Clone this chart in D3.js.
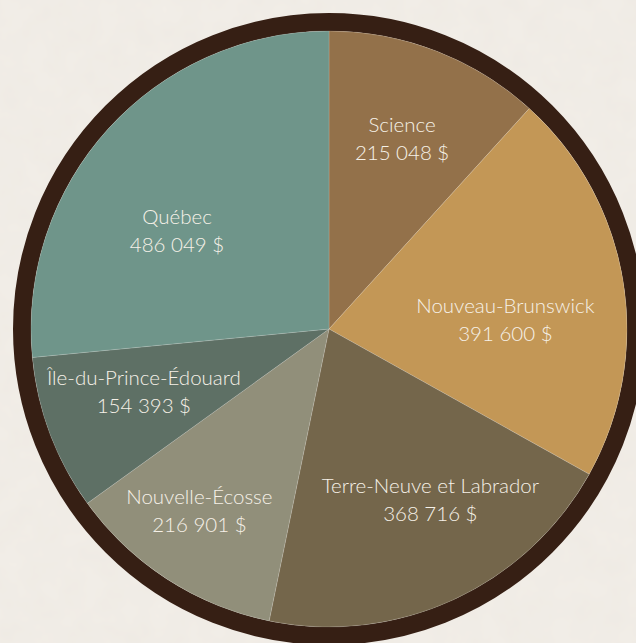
<!DOCTYPE html>
<html>
<head>
<meta charset="utf-8">
<script src="https://cdn.jsdelivr.net/npm/d3@7"></script>
<style>
  html, body { margin: 0; padding: 0; background: #f2eee8; }
  svg { display: block; }
  .etiqueta { font-family: Lato, "Open Sans", sans-serif; font-size: 20.5px; font-weight: 300; fill: #f6f1e8; }
</style>
</head>
<body>
<div id="grafico"></div>
<script>
// datos
var regiones = ["Science", "Nouveau-Brunswick", "Terre-Neuve et Labrador",
  "Nouvelle-Écosse", "Île-du-Prince-Édouard", "Québec"];
var montos = [215048, 391600, 368716, 216901, 154393, 486049];
var colores = ["#93714a", "#c39756", "#74664b", "#918f7a", "#5e7065", "#6f958a"];

// variables globales
var w = 636, h = 643;
var cx = 329, cy = 329;
var radio = 298;
var borde = 18;
var radio_etiqueta = 200;
// pequeños ajustes de las etiquetas (dx, dy)
var ajustes = [[1, -3], [-21, 23], [18, -11], [-21, 14], [2, -7], [-4, 37]];

var svg = d3.select("#grafico").append("svg")
  .attr("width", w)
  .attr("height", h);

// textura del fondo
var defs = svg.append("defs");
var filtro = defs.append("filter").attr("id", "papel")
  .attr("x", 0).attr("y", 0).attr("width", "100%").attr("height", "100%");
filtro.append("feTurbulence")
  .attr("type", "fractalNoise")
  .attr("baseFrequency", 0.04)
  .attr("numOctaves", 3)
  .attr("seed", 4);
filtro.append("feColorMatrix")
  .attr("values", "0 0 0 0 0.6  0 0 0 0 0.55  0 0 0 0 0.48  0 0 0 0.09 0");

svg.append("rect").attr("width", w).attr("height", h).attr("fill", "#f2eee8");
svg.append("rect").attr("width", w).attr("height", h).attr("filter", "url(#papel)");

var g = svg.append("g").attr("transform", "translate(" + cx + "," + cy + ")");

// borde oscuro
g.append("circle")
  .attr("r", radio + borde / 2)
  .attr("fill", "none")
  .attr("stroke", "#361f14")
  .attr("stroke-width", borde);

var pie = d3.pie().sort(null).value(function(d) { return d; });
var arcos = pie(montos);

var arco = d3.arc().innerRadius(0).outerRadius(radio);
var arco_etiqueta = d3.arc().innerRadius(radio_etiqueta).outerRadius(radio_etiqueta);

g.selectAll("path")
  .data(arcos)
  .enter()
  .append("path")
  .attr("d", arco)
  .attr("fill", function(d, i) { return colores[i]; })
  .attr("stroke", "rgba(255,255,255,0.25)")
  .attr("stroke-width", 0.6);

var fmt = function(v) {
  return d3.format(",")(v).replace(/,/g, " ") + " $";
};

var textos = g.selectAll("text.etiqueta")
  .data(arcos)
  .enter()
  .append("text")
  .attr("class", "etiqueta")
  .attr("text-anchor", "middle")
  .attr("transform", function(d, i) {
    var c = arco_etiqueta.centroid(d);
    return "translate(" + (c[0] + ajustes[i][0]) + "," + (c[1] + ajustes[i][1]) + ")";
  });

textos.append("tspan")
  .attr("x", 0)
  .attr("y", -7)
  .text(function(d, i) { return regiones[i]; });

textos.append("tspan")
  .attr("x", 0)
  .attr("y", 21)
  .text(function(d) { return fmt(d.data); });
</script>
</body>
</html>
